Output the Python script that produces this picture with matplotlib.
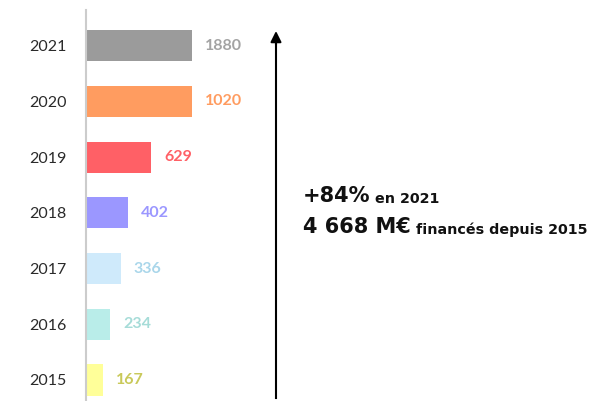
import numpy as np
import matplotlib.pyplot as plt

years = ['2015', '2016', '2017', '2018', '2019', '2020', '2021']
values = [167, 234, 336, 402, 629, 1020, 1880]
bar_colors = ['#ffff99', '#b9ede9', '#cfeafb', '#9b97ff', '#ff6066', '#ff9c60', '#9b9b9b']
label_colors = ['#c9c95a', '#a6dcd8', '#a9d6ea', '#9b97ff', '#ff6066', '#ff9c60', '#a3a3a3']
bar_cap = 1020  # longest bars are drawn at the same length in the original

plt.rcParams['font.family'] = ['Lato', 'DejaVu Sans']

fig = plt.figure(figsize=(6.02, 4.01), dpi=100)
ax = fig.add_axes([86 / 602, 0, 516 / 602, 391 / 401])

y = np.arange(len(years))
widths = np.minimum(values, bar_cap)
ax.barh(y, widths, height=0.56, color=bar_colors)

for yi, w, v, c in zip(y, widths, values, label_colors):
    ax.annotate(str(v), xy=(w, yi), xytext=(13, 0), textcoords='offset pixels',
                va='center', ha='left', color=c, fontsize=11.5, fontweight='bold')

ax.set_xlim(0, 516 / 0.104)
ax.set_ylim(-0.377, 6.64)
ax.set_yticks(y)
ax.set_yticklabels(years, fontsize=11.5, color='#2a2a2a')
ax.tick_params(axis='y', length=0, pad=14)
ax.set_xticks([])
for s in ['top', 'right', 'bottom']:
    ax.spines[s].set_visible(False)
ax.spines['left'].set_color('#cccccc')
ax.spines['left'].set_linewidth(1.5)

# vertical arrow
fig.add_artist(plt.Line2D([276 / 602, 276 / 602], [1 - 398 / 401, 1 - 42 / 401],
                          color='black', lw=1.5, transform=fig.transFigure))
ax.annotate('', xy=(276 / 602, 1 - 31 / 401), xycoords='figure fraction',
            xytext=(276 / 602, 1 - 45 / 401), textcoords='figure fraction',
            arrowprops=dict(arrowstyle='-|>', color='black', lw=1.5,
                            mutation_scale=16, shrinkA=0, shrinkB=0))

big = dict(fontsize=15, fontweight='bold', color='#111111', family='DejaVu Sans')
small = dict(fontsize=10.3, fontweight='bold', color='#111111', family='DejaVu Sans')
t1 = fig.text(303 / 602, 1 - 202 / 401, '+84%', va='baseline', ha='left', **big)
ax.annotate(' en 2021', xy=(1, 0), xycoords=t1, va='bottom', ha='left', **small)
t2 = fig.text(303 / 602, 1 - 233 / 401, '4 668 M€', va='baseline', ha='left', **big)
ax.annotate(' financés depuis 2015', xy=(1, 0), xycoords=t2, va='bottom', ha='left', **small)

fig.savefig('out.png', dpi=100)
